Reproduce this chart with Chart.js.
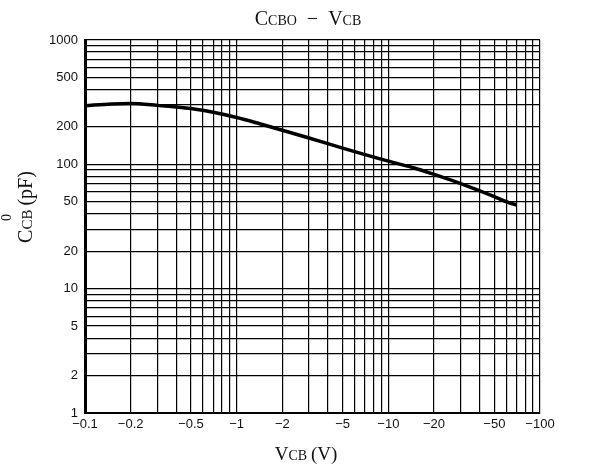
<!DOCTYPE html>
<html>
<head>
<meta charset="utf-8">
<script src="https://cdn.jsdelivr.net/npm/chart.js@4/dist/chart.umd.min.js"></script>
<style>
  html, body { margin: 0; padding: 0; background: #fff; }
  #wrap { width: 615px; height: 468px; }
</style>
</head>
<body>
<div id="wrap"><canvas id="chart1" width="615" height="468"></canvas></div>
<script>
  // curve: VCB (V, magnitude) vs CCB (pF)
  const vcb = [0.1, 0.15, 0.2, 0.3, 0.5, 0.7, 1, 1.4, 2, 3, 5, 10, 15, 20, 30, 50, 60, 70];
  const ccb = [296, 306, 308, 298, 281, 262, 238, 213, 188, 163, 135, 106, 93, 83, 70, 55, 50, 47];

  const xLabeled = [0.1, 0.2, 0.5, 1, 2, 5, 10, 20, 50, 100];
  const xLabels = ['\u22120.1', '\u22120.2', '\u22120.5', '\u22121', '\u22122', '\u22125', '\u221210', '\u221220', '\u221250', '\u2212100'];
  const yLabeled = [1, 2, 5, 10, 20, 50, 100, 200, 500, 1000];
  const yLabels = ['1', '2', '5', '10', '20', '50', '100', '200', '500', '1000'];

  // every 1..9 multiple for the log grid
  function logGrid(lo, hi) {
    const out = [];
    for (let d = lo; d < hi; d *= 10) {
      for (let m = 1; m < 10; m++) out.push(+(m * d).toPrecision(3));
    }
    out.push(hi);
    return out;
  }

  function labelFor(v, vals, labels) {
    const i = vals.findIndex(t => Math.abs(t - v) / t < 1e-6);
    return i >= 0 ? labels[i] : '';
  }

  const textPlugin = {
    id: 'texts',
    afterDraw(chart) {
      const c = chart.ctx;
      const serif = '"Liberation Serif", "DejaVu Serif", serif';
      function run(parts, x, y) {
        let w = 0;
        parts.forEach(p => { c.font = p[1] + 'px ' + serif; w += c.measureText(p[0]).width; });
        let cx = x - w / 2;
        parts.forEach(p => {
          c.font = p[1] + 'px ' + serif;
          c.fillText(p[0], cx, y);
          cx += c.measureText(p[0]).width;
        });
        return x - w / 2;
      }
      c.save();
      c.fillStyle = '#111';
      c.textBaseline = 'alphabetic';
      c.textAlign = 'left';
      run([['C', 20], ['CBO', 14], ['  \u2212  ', 20], ['V', 20], ['CB', 14]], 308, 25);
      run([['V', 19], ['CB', 14], ['\u2009(V)', 19]], 306, 460);
      c.translate(32, 207);
      c.rotate(-Math.PI / 2);
      const start = run([['C', 20], ['CB', 15], ['\u2009(pF)', 20]], 0, 0);
      c.font = '14px ' + serif;
      c.fillText('0', start + 22, -21);
      c.restore();
    }
  };

  const ctx = document.getElementById('chart1').getContext('2d');

  new Chart(ctx, {
    type: 'line',
    data: {
      datasets: [{
        data: vcb.map((v, i) => ({ x: v, y: ccb[i] })),
        borderColor: '#000',
        borderWidth: 3.5,
        pointRadius: 0,
        tension: 0.4,
        cubicInterpolationMode: 'monotone',
        fill: false
      }]
    },
    options: {
      responsive: false,
      animation: false,
      layout: { padding: { left: 0, right: 75, top: 40, bottom: 0 } },
      plugins: {
        legend: { display: false },
        tooltip: { enabled: false }
      },
      scales: {
        x: {
          type: 'logarithmic',
          min: 0.1,
          max: 100,
          afterBuildTicks: s => { s.ticks = logGrid(0.1, 100).map(v => ({ value: v })); },
          afterFit: s => { s.height = 55; },
          ticks: {
            autoSkip: false,
            maxRotation: 0,
            color: '#111',
            font: { family: '"Liberation Sans", Arial, sans-serif', size: 13 },
            padding: 4,
            callback: v => labelFor(v, xLabeled, xLabels)
          },
          grid: { color: '#000', lineWidth: 1.2, drawTicks: false },
          border: { color: '#000', width: 2 }
        },
        y: {
          type: 'logarithmic',
          min: 1,
          max: 1000,
          afterBuildTicks: s => { s.ticks = logGrid(1, 1000).map(v => ({ value: v })); },
          afterFit: s => { s.width = 85; },
          ticks: {
            autoSkip: false,
            color: '#111',
            font: { family: '"Liberation Sans", Arial, sans-serif', size: 13 },
            padding: 7,
            callback: v => labelFor(v, yLabeled, yLabels)
          },
          grid: { color: '#000', lineWidth: 1.2, drawTicks: false },
          border: { color: '#000', width: 3 }
        }
      }
    },
    plugins: [textPlugin]
  });
</script>
</body>
</html>
